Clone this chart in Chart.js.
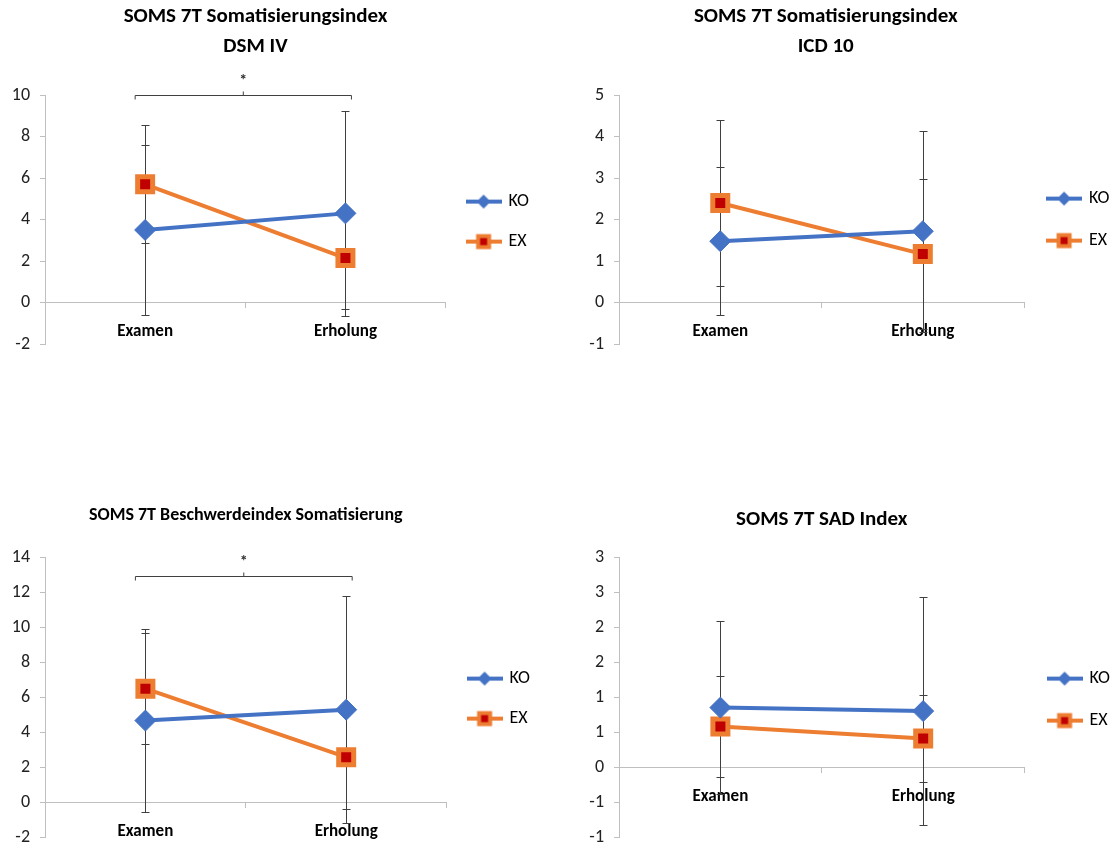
<!DOCTYPE html>
<html>
<head>
<meta charset="utf-8">
<title>SOMS 7T</title>
<script src="https://cdn.jsdelivr.net/npm/chart.js@4/dist/chart.umd.min.js"></script>
<style>
  html, body { margin: 0; padding: 0; background: #fff; overflow: hidden; }
  body { width: 1114px; height: 848px; position: relative; }
  canvas { position: absolute; }
</style>
</head>
<body>
<canvas id="dsmChart" style="left:-28px; top:0px;" width="567" height="365"></canvas>
<canvas id="icdChart" style="left:532px; top:0px;" width="590" height="365"></canvas>
<canvas id="besChart" style="left:0px; top:480px;" width="540" height="378"></canvas>
<canvas id="sadChart" style="left:540px; top:480px;" width="580" height="378"></canvas>
<script>
// categories and series (means + standard deviations)
const categories = ['Examen', 'Erholung'];
const seriesNames = ['KO', 'EX'];

const koDsm = [3.5, 4.3];
const exDsm = [5.7, 2.15];
const koDsmSd = [4.1, 4.95];
const exDsmSd = [2.85, 2.45];

const koIcd = [1.48, 1.72];
const exIcd = [2.4, 1.17];
const koIcdSd = [1.78, 2.42];
const exIcdSd = [2.0, 1.8];

const koBes = [4.66, 5.28];
const exBes = [6.48, 2.57];
const koBesSd = [5.22, 6.48];
const exBesSd = [3.18, 2.97];

const koSad = [0.85, 0.80];
const exSad = [0.58, 0.41];
const koSadSd = [1.23, 1.63];
const exSadSd = [0.72, 0.62];

const FONT = 'Carlito, Lato, "Open Sans", sans-serif';
const BLUE = '#4472C4';
const ORANGE = '#ED7D31';
const DARKRED = '#C00000';

// legend icons: line with marker in the middle, like the Excel legend
function makeIcon(shape) {
  const c = document.createElement('canvas');
  c.width = 36; c.height = 18;
  const g = c.getContext('2d');
  g.lineWidth = 4;
  g.strokeStyle = shape === 'diamond' ? BLUE : ORANGE;
  g.beginPath(); g.moveTo(0, 9); g.lineTo(36, 9); g.stroke();
  if (shape === 'diamond') {
    g.fillStyle = BLUE;
    g.beginPath(); g.moveTo(18, 2); g.lineTo(25, 9); g.lineTo(18, 16); g.lineTo(11, 9); g.closePath(); g.fill();
  } else {
    g.fillStyle = DARKRED;
    g.lineWidth = 4;
    g.beginPath(); g.rect(12.5, 3.5, 11, 11); g.fill(); g.stroke();
  }
  return c;
}
const legendIcons = [makeIcon('diamond'), makeIcon('square')];

// vertical error bars from dataset.errorBars
const errorBarPlugin = {
  id: 'errorBars',
  beforeDatasetsDraw(chart) {
    const ctx = chart.ctx, yScale = chart.scales.y;
    ctx.save();
    ctx.strokeStyle = '#404040';
    ctx.lineWidth = 1;
    chart.data.datasets.forEach((ds, i) => {
      const meta = chart.getDatasetMeta(i);
      meta.data.forEach((pt, j) => {
        const v = ds.data[j], e = ds.errorBars[j];
        const x = Math.round(pt.x) + 0.5;
        const top = Math.round(yScale.getPixelForValue(v + e)) + 0.5;
        const bot = Math.round(yScale.getPixelForValue(v - e)) + 0.5;
        ctx.beginPath();
        ctx.moveTo(x, top); ctx.lineTo(x, bot);
        ctx.moveTo(x - 4, top); ctx.lineTo(x + 4, top);
        ctx.moveTo(x - 4, bot); ctx.lineTo(x + 4, bot);
        ctx.stroke();
      });
    });
    ctx.restore();
  }
};

// significance bracket with asterisk
const sigPlugin = {
  id: 'sigBracket',
  afterDraw(chart, args, opts) {
    if (!opts || opts.level === undefined) return;
    const ctx = chart.ctx, xs = chart.scales.x, ys = chart.scales.y;
    const y = Math.round(ys.getPixelForValue(opts.level)) + 0.5;
    const x1 = xs.getPixelForValue(opts.from) - 10;
    const x2 = xs.getPixelForValue(opts.to) + 6;
    const xm = (x1 + x2) / 2;
    ctx.save();
    ctx.strokeStyle = '#404040';
    ctx.lineWidth = 1;
    ctx.beginPath();
    ctx.moveTo(x1, y + 4); ctx.lineTo(x1, y); ctx.lineTo(x2, y); ctx.lineTo(x2, y + 4);
    ctx.moveTo(xm, y); ctx.lineTo(xm, y - 4);
    ctx.stroke();
    ctx.fillStyle = '#333';
    ctx.font = 'bold 16px ' + FONT;
    ctx.textAlign = 'center';
    ctx.textBaseline = 'middle';
    ctx.fillText(opts.label, xm, y - 15);
    ctx.restore();
  }
};

function excelRound(v) {
  const r = Math.sign(v) * Math.round(Math.abs(v));
  return r === 0 ? '0' : String(r);
}

function makePanel(id, p) {
  const ko = {
    label: seriesNames[0], data: p.ko, errorBars: p.koSd,
    borderColor: BLUE, backgroundColor: BLUE, borderWidth: 4,
    pointStyle: 'rectRot', pointRadius: 10.5, pointBorderWidth: 1,
    pointBackgroundColor: BLUE, pointBorderColor: BLUE
  };
  const ex = {
    label: seriesNames[1], data: p.ex, errorBars: p.exSd,
    borderColor: ORANGE, backgroundColor: ORANGE, borderWidth: 4,
    pointStyle: 'rect', pointRadius: 10.6, pointBorderWidth: 5,
    pointBackgroundColor: DARKRED, pointBorderColor: ORANGE
  };
  return new Chart(document.getElementById(id), {
    type: 'line',
    data: { labels: categories, datasets: [ko, ex] },
    plugins: [errorBarPlugin, sigPlugin],
    options: {
      responsive: false,
      animation: false,
      layout: { padding: { left: 0, right: p.padRight, top: 0, bottom: 12 } },
      plugins: {
        tooltip: { enabled: false },
        title: {
          display: true, text: p.title, fullSize: p.titleFull, color: '#000',
          font: { family: FONT, size: p.titleSize, weight: 'bold', lineHeight: 30 / p.titleSize },
          padding: p.titlePad
        },
        legend: {
          position: 'right', fullSize: false,
          title: { display: p.legendShift > 0, text: '', padding: 0, font: { size: p.legendShift || 1, lineHeight: 1 } },
          labels: {
            usePointStyle: true, pointStyleWidth: 32, padding: p.legendPad,
            color: '#000', font: { family: FONT, size: 18 },
            generateLabels: chart => Chart.defaults.plugins.legend.labels.generateLabels(chart)
              .map((item, i) => ({ ...item, pointStyle: legendIcons[i] }))
          }
        },
        sigBracket: p.sig || {}
      },
      scales: {
        x: {
          position: { y: 0 },
          offset: true,
          grid: { drawOnChartArea: false, offset: true, tickLength: 5, color: '#bfbfbf' },
          border: { color: '#bfbfbf' },
          ticks: { color: '#000', padding: 14, font: { family: FONT, size: 17, weight: 'bold' } }
        },
        y: {
          min: p.min, max: p.max,
          afterFit: s => { s.width = p.yWidth; },
          grid: { drawOnChartArea: false, tickLength: 5, color: '#bfbfbf' },
          border: { color: '#bfbfbf' },
          ticks: {
            stepSize: p.step, color: '#222', padding: 10,
            font: { family: FONT, size: 18 },
            callback: p.rounded ? v => excelRound(v) : v => v
          }
        }
      }
    }
  });
}

makePanel('dsmChart', {
  title: ['SOMS 7T Somatisierungsindex', 'DSM IV'], titleFull: true, titleSize: 21, titlePad: { top: 2, bottom: 33 },
  ko: koDsm, ex: exDsm, koSd: koDsmSd, exSd: exDsmSd,
  min: -2, max: 10, step: 2, yWidth: 73, padRight: 0, legendPad: 22, legendShift: 4,
  sig: { from: 0, to: 1, level: 10, label: '*' }
});
makePanel('icdChart', {
  title: ['SOMS 7T Somatisierungsindex', 'ICD 10'], titleFull: true, titleSize: 21, titlePad: { top: 2, bottom: 33 },
  ko: koIcd, ex: exIcd, koSd: koIcdSd, exSd: exIcdSd,
  min: -1, max: 5, step: 1, yWidth: 87, padRight: 2.5, legendPad: 24, legendShift: 0
});
makePanel('besChart', {
  title: 'SOMS 7T Beschwerdeindex Somatisierung', titleFull: false, titleSize: 18, titlePad: { top: 20, bottom: 27 },
  ko: koBes, ex: exBes, koSd: koBesSd, exSd: exBesSd,
  min: -2, max: 14, step: 2, yWidth: 45, padRight: 0, legendPad: 22, legendShift: 3,
  sig: { from: 0, to: 1, level: 12.9, label: '*' }
});
makePanel('sadChart', {
  title: 'SOMS 7T SAD Index', titleFull: false, titleSize: 21, titlePad: { top: 25, bottom: 22 },
  ko: koSad, ex: exSad, koSd: koSadSd, exSd: exSadSd,
  min: -1, max: 3, step: 0.5, yWidth: 79, padRight: 0, legendPad: 24, legendShift: 5, rounded: true
});
</script>
</body>
</html>
